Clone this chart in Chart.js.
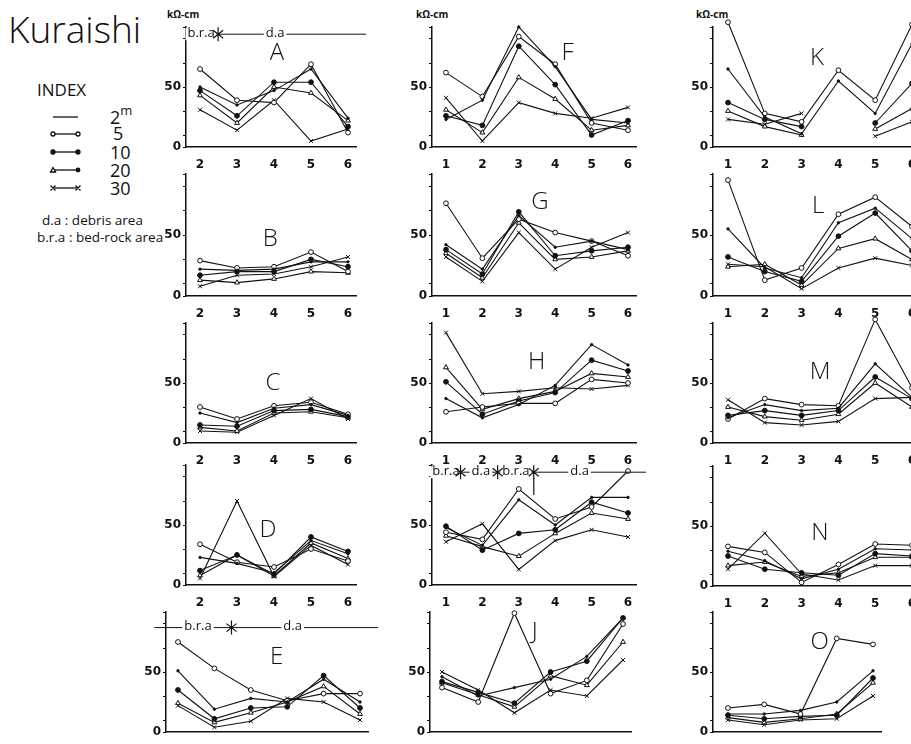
<!DOCTYPE html>
<html><head><meta charset="utf-8">
<script src="https://cdn.jsdelivr.net/npm/chart.js@4/dist/chart.umd.min.js"></script>
<style>
body{margin:0;background:#fff;width:911px;height:744px;overflow:hidden;position:relative;font-family:'Open Sans','DejaVu Sans',sans-serif;color:#111}
.t{position:absolute;white-space:nowrap;line-height:1}
canvas{position:absolute}
</style></head><body>
<div class="t" style="left:8px;top:10px;font-size:37px;font-weight:300">Kuraishi</div>
<div class="t" style="left:37px;top:81px;font-size:17px">INDEX</div>
<div class="t" style="left:110px;top:104px;font-size:18px">2<sup style="font-size:13px;vertical-align:9px">m</sup></div>
<div class="t" style="left:113px;top:124px;font-size:18px">5</div>
<div class="t" style="left:110px;top:143px;font-size:18px">10</div>
<div class="t" style="left:110px;top:161px;font-size:18px">20</div>
<div class="t" style="left:110px;top:179px;font-size:18px">30</div>
<div class="t" style="left:42px;top:214px;font-size:13.5px">d.a : debris area</div>
<div class="t" style="left:37px;top:231px;font-size:13.5px">b.r.a : bed-rock area</div>
<div class="t" style="left:167px;top:9px;font-size:10px;font-weight:bold">kΩ-cm</div>
<div class="t" style="left:416px;top:9px;font-size:10px;font-weight:bold">kΩ-cm</div>
<div class="t" style="left:696px;top:9px;font-size:10px;font-weight:bold">kΩ-cm</div>
<svg style="position:absolute;left:0;top:0" width="170" height="200">
 <g stroke="#111" stroke-width="1.3" fill="none">
  <line x1="53" y1="117" x2="78" y2="117"/>
  <line x1="53" y1="134" x2="78" y2="134"/>
  <line x1="53" y1="152" x2="78" y2="152"/>
  <line x1="53" y1="170" x2="78" y2="170"/>
  <line x1="53" y1="188" x2="78" y2="188"/>
  <circle cx="53" cy="134" r="2" fill="#fff"/><circle cx="78" cy="134" r="2" fill="#fff"/>
  <circle cx="53" cy="152" r="2" fill="#111"/><circle cx="78" cy="152" r="2" fill="#111"/>
  <path d="M50.5 172 L53 167.5 L55.5 172 Z" fill="#fff"/><circle cx="78" cy="170" r="1.8" fill="#111"/>
  <path d="M50.5 185.5 L55.5 190.5 M55.5 185.5 L50.5 190.5 M75.5 185.5 L80.5 190.5 M80.5 185.5 L75.5 190.5"/>
 </g>
</svg>
<script>
// ---- data ----
const depths = ['2m', '5', '10', '20', '30'];
const cats2to6 = [2, 3, 4, 5, 6];
const cats1to6 = [1, 2, 3, 4, 5, 6];
const cats1to5 = [1, 2, 3, 4, 5];
const yTickValues = [0, 10, 30, 50, 70, 90, 100];
const yTickLabels = {0: '0', 50: '50'};

// each panel: rows = depths 2m, 5, 10, 20, 30
const A = [[50,35,47,65,24],[65,39,37,69,12],[47,26,54,54,17],[43,20,50,45,22],[31,14,39,5,15]];
const B = [[22,21,22,28,28],[29,23,24,36,20],[17,20,20,30,24],[13,11,14,20,19],[8,17,18,24,32]];
const C = [[25,17,29,32,23],[30,20,31,34,24],[15,14,27,28,22],[13,10,25,26,21],[10,9,23,37,20]];
const D = [[23,18,10,37,26],[34,19,15,30,20],[12,25,9,40,28],[8,25,7.5,35,22],[5.5,70,7,33,17]];
const E = [[51,19,28,25,44,25],[75,53,35,26,32,32],[35,11,20,21,47,20],[24,8,16,25,38,15],[22,4,9,28,25,10]];
const F = [[23,39,100,67,23,20],[62,42,92,69,20,14],[26,18,84,52,10,22],[31,12,58,40,14,18],[41,5,37,28,24,33]];
const G = [[42,22,66,40,45,38],[76,31,63,52,45,33],[38,18,69,33,37,40],[35,15,60,30,32,37],[32,12,52,22,40,52]];
const H = [[37,21,32,48,82,65],[26,30,33,33,53,50],[51,24,35,42,69,60],[63,28,37,43,58,55],[92,41,43,46,45,48]];
const I = [[48,33,71,50,73,73],[44,38,80,55,65,95],[49,29,43,46,69,60],[41,32,24,43,60,55],[36,51,13,37,46,40]];
const J = [[46,30,37,44,63,95],[37,25,99,32,43,90],[42,33,24,50,59,95],[41,31,21,47,39,75],[50,35,16,35,30,60]];
const K = [[65,25,11,55,28,86],[104,28,21,64,39,102],[37,23,17,null,20,53],[30,17,10,null,15,32],[23,19,28,null,9,21]];
const L = [[55,23,15,60,72,47],[95,13,23,67,81,57],[32,20,12,49,68,37],[24,26,9,39,47,30],[26,24,6,23,31,25]];
const M = [[21,32,27,29,66,38],[20,37,32,31,103,46],[23,27,23,27,55,37],[30,22,19,24,50,30],[36,17,15,18,37,38]];
const N = [[29,21,6,14,31,30],[33,28,3,18,35,34],[25,14,11,9,27,25],[17,20,8,11,24,24],[14,44,10,5,17,17]];
const O = [[15,15,18,25,51],[20,23,15,78,73],[14,11,13,14,45],[12,8,11,15,41],[10,6,10,11,30]];

// zone annotations (category position of labels / boundaries, level in kΩ-cm)
const annA = {level: 94, from: 1.62, labels: [['b.r.a', 2.03], ['d.a', 4.03]], marks: [2.49]};
const annE = {level: 87, from: 0.35, labels: [['b.r.a', 1.55], ['d.a', 4.15]], marks: [2.47]};
const annI = {level: 94, from: 0.62, labels: [['b.r.a', 1.0], ['d.a', 1.96], ['b.r.a', 2.92], ['d.a', 4.67]], marks: [1.4, 2.42, 3.41]};

// ---- layout (pixels) ----
const panels = [
 {name:'A', vals:A, cats:cats2to6, axisX:186, firstX:200, step:37,   base:147, unit:1.2,  letter:[4.08,78], ann:annA},
 {name:'B', vals:B, cats:cats2to6, axisX:186, firstX:200, step:37,   base:296, unit:1.22, letter:[3.9,47]},
 {name:'C', vals:C, cats:cats2to6, axisX:186, firstX:200, step:37,   base:443, unit:1.2,  letter:[3.97,50]},
 {name:'D', vals:D, cats:cats2to6, axisX:186, firstX:200, step:37,   base:585, unit:1.2,  letter:[3.84,46]},
 {name:'E', vals:E, cats:cats1to6, axisX:166, firstX:178, step:36.5, base:732, unit:1.2,  letter:[3.71,62], ann:annE},
 {name:'F', vals:F, cats:cats1to6, axisX:432, firstX:446, step:36.5, base:147, unit:1.2,  letter:[4.34,78]},
 {name:'G', vals:G, cats:cats1to6, axisX:432, firstX:446, step:36.5, base:296, unit:1.22, letter:[3.58,77]},
 {name:'H', vals:H, cats:cats1to6, axisX:432, firstX:446, step:36.5, base:443, unit:1.2,  letter:[3.49,67]},
 {name:'I', vals:I, cats:cats1to6, axisX:432, firstX:446, step:36.5, base:585, unit:1.2,  letter:[3.41,81], ann:annI},
 {name:'J', vals:J, cats:cats1to6, axisX:430, firstX:442, step:36.3, base:732, unit:1.2,  letter:[3.56,83]},
 {name:'K', vals:K, cats:cats1to6, axisX:713, firstX:728, step:36.8, base:147, unit:1.2,  letter:[3.42,74]},
 {name:'L', vals:L, cats:cats1to6, axisX:713, firstX:728, step:36.8, base:296, unit:1.22, letter:[3.45,74]},
 {name:'M', vals:M, cats:cats1to6, axisX:713, firstX:728, step:36.8, base:443, unit:1.2,  letter:[3.5,59]},
 {name:'N', vals:N, cats:cats1to6, axisX:713, firstX:728, step:36.8, base:586, unit:1.2,  letter:[3.5,44]},
 {name:'O', vals:O, cats:cats1to5, axisX:713, firstX:728, step:36.3, base:732, unit:1.2,  letter:[3.53,75]},
];

const seriesStyle = [
 {pointStyle:'circle',   pointRadius:1.2, pointBackgroundColor:'#111'},
 {pointStyle:'circle',   pointRadius:2.4, pointBackgroundColor:'#fff'},
 {pointStyle:'circle',   pointRadius:2.4, pointBackgroundColor:'#111'},
 {pointStyle:'triangle', pointRadius:2.8, pointBackgroundColor:'#fff'},
 {pointStyle:'crossRot', pointRadius:2.8, pointBackgroundColor:'#111'},
];

const INK = '#111';
const PADL = 45, PADT = 16, PADB = 22, PADR = 10;

const decor = {
  id: 'decor',
  afterDatasetsDraw(chart) {
    const p = panels[+chart.canvas.dataset.idx];
    const {ctx, scales:{x, y}} = chart;
    ctx.save();
    ctx.fillStyle = INK; ctx.strokeStyle = INK;
    ctx.textAlign = 'center'; ctx.textBaseline = 'middle';
    ctx.font = '300 24px "Open Sans"';
    ctx.fillText(p.name, x.getPixelForValue(p.letter[0]), y.getPixelForValue(p.letter[1]));
    if (p.ann) {
      const a = p.ann, ly = y.getPixelForValue(a.level);
      ctx.lineWidth = 1;
      ctx.beginPath();
      ctx.moveTo(x.getPixelForValue(a.from), ly);
      ctx.lineTo(chart.chartArea.right + 20, ly);
      ctx.stroke();
      ctx.font = '13px "Open Sans"';
      a.labels.forEach(([txt, cx]) => {
        const px = x.getPixelForValue(cx), w = ctx.measureText(txt).width + 4;
        ctx.fillStyle = '#fff'; ctx.fillRect(px - w/2, ly - 6, w, 12);
        ctx.fillStyle = INK; ctx.fillText(txt, px, ly - 1);
      });
      ctx.lineWidth = 1.2;
      a.marks.forEach(cx => {
        const px = x.getPixelForValue(cx);
        ctx.beginPath();
        ctx.moveTo(px, ly - 7); ctx.lineTo(px, ly + 7);
        ctx.moveTo(px - 5, ly - 4); ctx.lineTo(px + 5, ly + 4);
        ctx.moveTo(px - 5, ly + 4); ctx.lineTo(px + 5, ly - 4);
        ctx.stroke();
      });
    }
    ctx.restore();
  }
};

panels.forEach((p, idx) => {
  const last = p.firstX + p.step * (p.cats.length - 1);
  const rightEnd = last + 8;
  const plotW = rightEnd - p.axisX;
  const plotH = 100 * p.unit;
  const cv = document.createElement('canvas');
  cv.dataset.idx = idx;
  cv.width = PADL + plotW + PADR;
  cv.height = PADT + plotH + PADB;
  cv.style.left = (p.axisX - PADL) + 'px';
  cv.style.top = (p.base - plotH - PADT) + 'px';
  document.body.appendChild(cv);
  const xmin = p.cats[0] - (p.firstX - p.axisX) / p.step;
  const xmax = xmin + plotW / p.step;
  new Chart(cv, {
    type: 'line',
    data: {
      datasets: p.vals.map((v, i) => Object.assign({
        label: depths[i],
        data: p.cats.map((c, j) => ({x: c, y: v[j]})),
        borderColor: INK, borderWidth: 1.1,
        pointBorderColor: INK, pointBorderWidth: 1,
        spanGaps: false, clip: false, tension: 0
      }, seriesStyle[i]))
    },
    options: {
      responsive: false, animation: false, devicePixelRatio: 1,
      layout: {padding: {left: 0, right: PADR, top: PADT, bottom: 0}},
      plugins: {legend: {display: false}, tooltip: {enabled: false}},
      scales: {
        x: {
          type: 'linear', min: xmin, max: xmax,
          afterFit(s) { s.height = PADB; },
          afterBuildTicks(s) { s.ticks = p.cats.map(c => ({value: c})); },
          grid: {display: false},
          border: {display: true, color: INK, width: 1.5},
          ticks: {color: INK, font: {family: 'DejaVu Sans', size: 12, weight: 'bold'}, padding: 3,
                  autoSkip: false, maxRotation: 0, callback: v => String(v)}
        },
        y: {
          type: 'linear', min: 0, max: 100,
          afterFit(s) { s.width = PADL; },
          afterBuildTicks(s) { s.ticks = yTickValues.map(v => ({value: v})); },
          grid: {display: true, drawOnChartArea: false, drawTicks: true, tickLength: 3, color: INK, lineWidth: 1},
          border: {display: true, color: INK, width: 1.5},
          ticks: {color: INK, font: {family: 'DejaVu Sans', size: 12, weight: 'bold'}, padding: 2,
                  autoSkip: false, callback: v => (yTickLabels[v] || '')}
        }
      }
    },
    plugins: [decor]
  });
});
</script>
</body></html>
